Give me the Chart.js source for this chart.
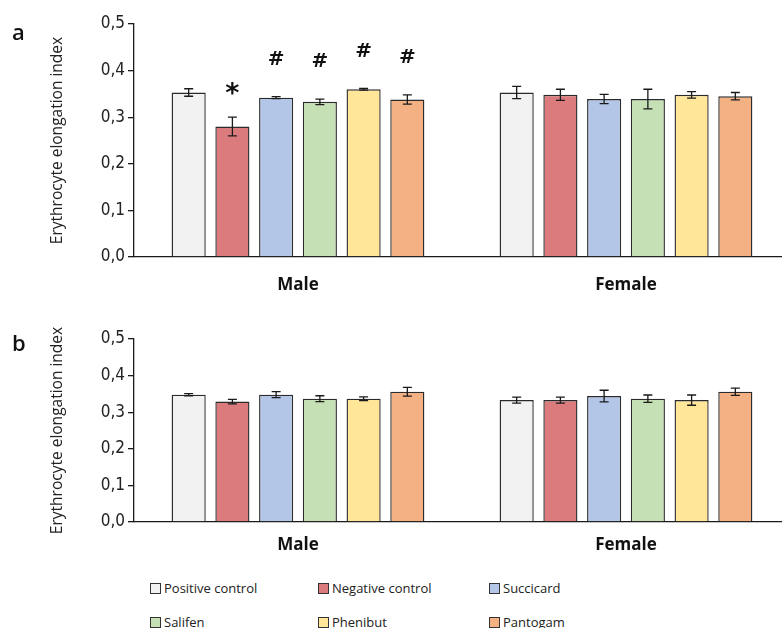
<!DOCTYPE html>
<html>
<head>
<meta charset="utf-8">
<script src="https://cdn.jsdelivr.net/npm/chart.js@4.4.1/dist/chart.umd.min.js"></script>
<style>
  html, body { margin: 0; padding: 0; background: #fff; overflow: hidden; }
  body { width: 782px; height: 628px; position: relative; }
  .wrap { position: absolute; left: 0; width: 790px; }
  #wrapA { top: 0; height: 300px; }
  #wrapB { top: 300px; height: 265px; }
  .panel { position: absolute; left: 12px; font: 600 22px "Open Sans", sans-serif; color: #111; }
  .legend { position: absolute; font: 13px "Open Sans", sans-serif; color: #222; white-space: nowrap; }
  .legend i { position: absolute; left: -14px; top: 4px; width: 9px; height: 9px; border: 1px solid #333; }
</style>
</head>
<body>
<div class="wrap" id="wrapA"><canvas id="chartA" width="790" height="300"></canvas></div>
<div class="wrap" id="wrapB"><canvas id="chartB" width="790" height="265"></canvas></div>
<div class="panel" style="top:16px">a</div>
<div class="panel" style="top:327px">b</div>
<div id="legend"></div>
<script>
// categories and series
const groups = ["Male", "Female"];
const treatments = ["Positive control", "Negative control", "Succicard", "Salifen", "Phenibut", "Pantogam"];
const yTickLabels = ["0,0", "0,1", "0,2", "0,3", "0,4", "0,5"];

// panel a
const aMale = [0.353, 0.280, 0.342, 0.333, 0.360, 0.338];
const aMaleErr = [0.008, 0.020, 0.002, 0.006, 0.002, 0.010];
const aFemale = [0.353, 0.348, 0.339, 0.339, 0.348, 0.345];
const aFemaleErr = [0.013, 0.012, 0.010, 0.021, 0.007, 0.008];
const aMaleMarks = ["", "*", "#", "#", "#", "#"];

// panel b
const bMale = [0.348, 0.329, 0.348, 0.337, 0.337, 0.356];
const bMaleErr = [0.003, 0.006, 0.008, 0.008, 0.005, 0.012];
const bFemale = [0.333, 0.333, 0.344, 0.337, 0.333, 0.356];
const bFemaleErr = [0.008, 0.008, 0.016, 0.010, 0.014, 0.010];

const fills = ["#f2f2f2", "#dc7b7e", "#b4c6e7", "#c5e0b4", "#ffe699", "#f4b183"];

const tickFont = "'Liberation Sans Narrow', 'DejaVu Sans Condensed', sans-serif";

// error bars + significance marks
const errorBars = {
  id: "errorBars",
  afterDatasetsDraw(chart) {
    const ctx = chart.ctx;
    const y = chart.scales.y;
    ctx.save();
    ctx.strokeStyle = "#1a1a1a";
    ctx.lineWidth = 1.3;
    chart.data.datasets.forEach((ds, i) => {
      const meta = chart.getDatasetMeta(i);
      meta.data.forEach((bar, j) => {
        const v = ds.data[j], e = ds.err[j];
        const top = y.getPixelForValue(v + e), bot = y.getPixelForValue(v - e);
        ctx.beginPath();
        ctx.moveTo(bar.x, top); ctx.lineTo(bar.x, bot);
        ctx.moveTo(bar.x - 4.5, top); ctx.lineTo(bar.x + 4.5, top);
        ctx.moveTo(bar.x - 4.5, bot); ctx.lineTo(bar.x + 4.5, bot);
        ctx.stroke();
        const m = ds.marks && ds.marks[j];
        if (m) {
          ctx.fillStyle = "#111";
          ctx.textAlign = "center";
          ctx.textBaseline = "middle";
          if (m === "*") {
            ctx.font = "bold 27px 'DejaVu Sans', sans-serif";
            ctx.fillText(m, bar.x, top - 22);
          } else {
            ctx.font = "bold 20px 'DejaVu Sans', sans-serif";
            ctx.fillText(m, bar.x, top - 37);
          }
        }
      });
    });
    ctx.restore();
  }
};

function makeChart(id, male, maleErr, female, femaleErr, marks, padTop, labelPad) {
  const datasets = treatments.map((t, i) => ({
    label: t,
    data: [male[i], female[i]],
    err: [maleErr[i], femaleErr[i]],
    marks: i < marks.length ? [marks[i], ""] : null,
    backgroundColor: fills[i],
    borderColor: "#2b2b2b",
    borderWidth: 1.4,
    borderSkipped: "bottom"
  }));
  return new Chart(document.getElementById(id), {
    type: "bar",
    data: { labels: groups, datasets },
    options: {
      responsive: false,
      animation: false,
      categoryPercentage: 0.80,
      barPercentage: 0.78,
      layout: { padding: { top: padTop, left: 0, right: 0, bottom: 0 } },
      plugins: { legend: { display: false }, tooltip: { enabled: false } },
      scales: {
        x: {
          grid: { display: false, drawTicks: false },
          border: { display: true, color: "#1a1a1a", width: 1.3 },
          ticks: { color: "#111", padding: labelPad, font: { family: "'Open Sans', sans-serif", size: 17, weight: "bold" } },
          afterFit(s) { s.height = 43; }
        },
        y: {
          min: 0, max: 0.5,
          ticks: {
            stepSize: 0.1, padding: 3, color: "#222",
            font: { family: tickFont, size: 17 },
            callback: (v, idx) => yTickLabels[idx]
          },
          grid: { display: true, drawOnChartArea: false, drawTicks: true, tickLength: 6, color: "#1a1a1a", lineWidth: 1.3 },
          border: { display: true, color: "#1a1a1a", width: 1.3 },
          title: {
            display: true, text: "Erythrocyte elongation index", color: "#222",
            font: { family: "'Open Sans', sans-serif", size: 15.5 },
            padding: { top: 48, bottom: 0 }
          },
          afterFit(s) { s.width = 134; }
        }
      }
    },
    plugins: [errorBars]
  });
}

makeChart("chartA", aMale, aMaleErr, aFemale, aFemaleErr, aMaleMarks, 24, 18);
makeChart("chartB", bMale, bMaleErr, bFemale, bFemaleErr, [], 39, 13);

// legend (3 columns x 2 rows)
const legCols = [164, 332, 503];
const legRows = [579, 613];
const leg = document.getElementById("legend");
treatments.forEach((t, i) => {
  const d = document.createElement("div");
  d.className = "legend";
  d.style.left = legCols[i % 3] + "px";
  d.style.top = legRows[Math.floor(i / 3)] + "px";
  d.innerHTML = '<i style="background:' + fills[i] + '"></i>' + t;
  leg.appendChild(d);
});
</script>
</body>
</html>
